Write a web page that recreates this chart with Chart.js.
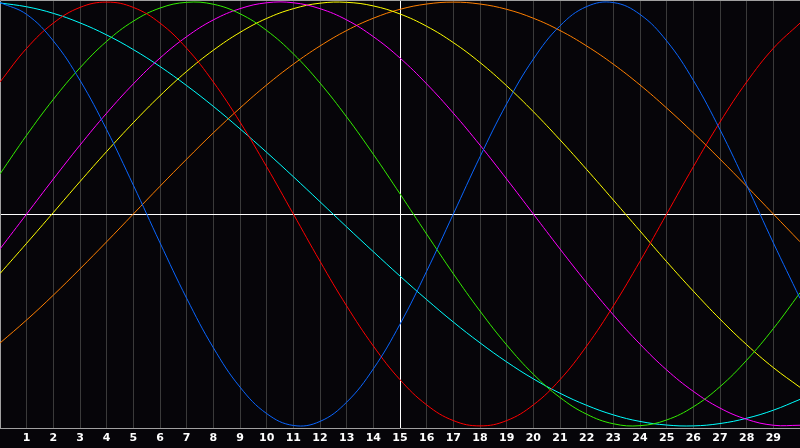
<!DOCTYPE html>
<html>
<head>
<meta charset="utf-8">
<script src="https://cdn.jsdelivr.net/npm/chart.js@4"></script>
<style>
  html, body { margin: 0; padding: 0; background: #060509; }
  #chart { display: block; }
</style>
</head>
<body>
<canvas id="chart" width="800" height="448"></canvas>
<script>
// days along the x axis (0 and 30 are the edges of the plot)
const days = [0, 1, 2, 3, 4, 5, 6, 7, 8, 9, 10, 11, 12, 13, 14, 15, 16, 17, 18, 19, 20, 21, 22, 23, 24, 25, 26, 27, 28, 29, 30];

// curve values, -1 .. 1
const blueValues = [0.998, 0.942, 0.817, 0.631, 0.398, 0.136, -0.136, -0.398, -0.631, -0.817, -0.942, -0.998, -0.979, -0.888, -0.731, -0.520, -0.270, 0.000, 0.270, 0.520, 0.731, 0.888, 0.979, 0.998, 0.942, 0.817, 0.631, 0.398, 0.136, -0.136, -0.398];
const redValues = [0.623, 0.782, 0.901, 0.975, 1.000, 0.975, 0.901, 0.782, 0.623, 0.434, 0.223, 0.000, -0.223, -0.434, -0.623, -0.782, -0.901, -0.975, -1.000, -0.975, -0.901, -0.782, -0.623, -0.434, -0.223, 0.000, 0.223, 0.434, 0.623, 0.782, 0.901];
const greenValues = [0.189, 0.372, 0.541, 0.690, 0.815, 0.910, 0.972, 0.999, 0.990, 0.945, 0.866, 0.756, 0.618, 0.458, 0.282, 0.095, -0.095, -0.282, -0.458, -0.618, -0.756, -0.866, -0.945, -0.990, -0.999, -0.972, -0.910, -0.815, -0.690, -0.541, -0.372];
const magentaValues = [-0.165, 0.000, 0.165, 0.325, 0.476, 0.614, 0.736, 0.837, 0.916, 0.969, 0.997, 0.997, 0.969, 0.916, 0.837, 0.736, 0.614, 0.476, 0.325, 0.165, 0.000, -0.165, -0.325, -0.476, -0.614, -0.736, -0.837, -0.916, -0.969, -0.997, -0.997];
const yellowValues = [-0.281, -0.138, 0.007, 0.153, 0.295, 0.431, 0.558, 0.673, 0.773, 0.857, 0.923, 0.969, 0.995, 0.999, 0.982, 0.944, 0.886, 0.809, 0.715, 0.605, 0.483, 0.350, 0.210, 0.066, -0.080, -0.225, -0.364, -0.496, -0.617, -0.725, -0.818];
const orangeValues = [-0.609, -0.500, -0.383, -0.259, -0.131, 0.000, 0.131, 0.259, 0.383, 0.500, 0.609, 0.707, 0.793, 0.866, 0.924, 0.966, 0.991, 1.000, 0.991, 0.966, 0.924, 0.866, 0.793, 0.707, 0.609, 0.500, 0.383, 0.259, 0.131, 0.000, -0.131];
const cyanValues = [0.996, 0.978, 0.947, 0.902, 0.845, 0.776, 0.696, 0.606, 0.508, 0.402, 0.291, 0.176, 0.058, -0.061, -0.178, -0.293, -0.404, -0.510, -0.608, -0.698, -0.778, -0.846, -0.903, -0.948, -0.979, -0.996, -1.000, -0.989, -0.964, -0.926, -0.875];

const seriesColors = ['#0a66ff', '#ff0000', '#33ee00', '#ff00ff', '#ffff00', '#ff7f00', '#00ffff'];
const seriesValues = [blueValues, redValues, greenValues, magentaValues, yellowValues, orangeValues, cyanValues];

const todayDay = 15;
const bgColor = '#060509';
const gridColor = '#3a3a3a';
const frameColor = '#a0a0a0';

function toPoints(values) {
  return values.map((v, i) => ({ x: days[i], y: v }));
}

const datasets = seriesValues.map((values, i) => ({
  data: toPoints(values),
  borderColor: seriesColors[i],
  borderWidth: 1,
  pointRadius: 0,
  pointHoverRadius: 0,
  tension: 0.4,
  fill: false
}));

// background, frame (top/left) and the zero line
const framePlugin = {
  id: 'frame',
  beforeDraw: (chart) => {
    const ctx = chart.ctx;
    ctx.save();
    ctx.fillStyle = bgColor;
    ctx.fillRect(0, 0, chart.width, chart.height);
    ctx.restore();
  },
  beforeDatasetsDraw: (chart) => {
    const ctx = chart.ctx;
    const area = chart.chartArea;
    const y0 = Math.round(chart.scales.y.getPixelForValue(0)) + 0.5;
    ctx.save();
    ctx.lineWidth = 1;
    ctx.strokeStyle = '#ffffff';
    ctx.beginPath();
    ctx.moveTo(area.left, y0);
    ctx.lineTo(area.right, y0);
    ctx.stroke();
    ctx.strokeStyle = frameColor;
    ctx.beginPath();
    ctx.moveTo(area.left + 0.5, area.bottom);
    ctx.lineTo(area.left + 0.5, area.top + 0.5);
    ctx.lineTo(area.right, area.top + 0.5);
    ctx.stroke();
    ctx.restore();
  }
};

new Chart(document.getElementById('chart'), {
  type: 'line',
  data: { datasets: datasets },
  options: {
    responsive: false,
    animation: false,
    devicePixelRatio: 1,
    layout: { autoPadding: false, padding: 0 },
    plugins: {
      legend: { display: false },
      tooltip: { enabled: false }
    },
    scales: {
      x: {
        type: 'linear',
        min: 0,
        max: 30,
        ticks: {
          stepSize: 1,
          autoSkip: false,
          maxRotation: 0,
          padding: 0,
          color: '#ffffff',
          font: { family: 'DejaVu Sans', size: 11, weight: 'bold', lineHeight: '20px' },
          callback: (value) => (value >= 1 && value <= 29 ? String(value) : '')
        },
        grid: {
          drawTicks: false,
          color: (ctx) => {
            const v = ctx.tick ? ctx.tick.value : null;
            if (v === todayDay) return '#ffffff';
            if (v === 0 || v === 30) return 'rgba(0,0,0,0)';
            return gridColor;
          }
        },
        border: { display: true, color: frameColor, width: 1 }
      },
      y: {
        display: false,
        min: -1.01,
        max: 1.01
      }
    }
  },
  plugins: [framePlugin]
});
</script>
</body>
</html>
